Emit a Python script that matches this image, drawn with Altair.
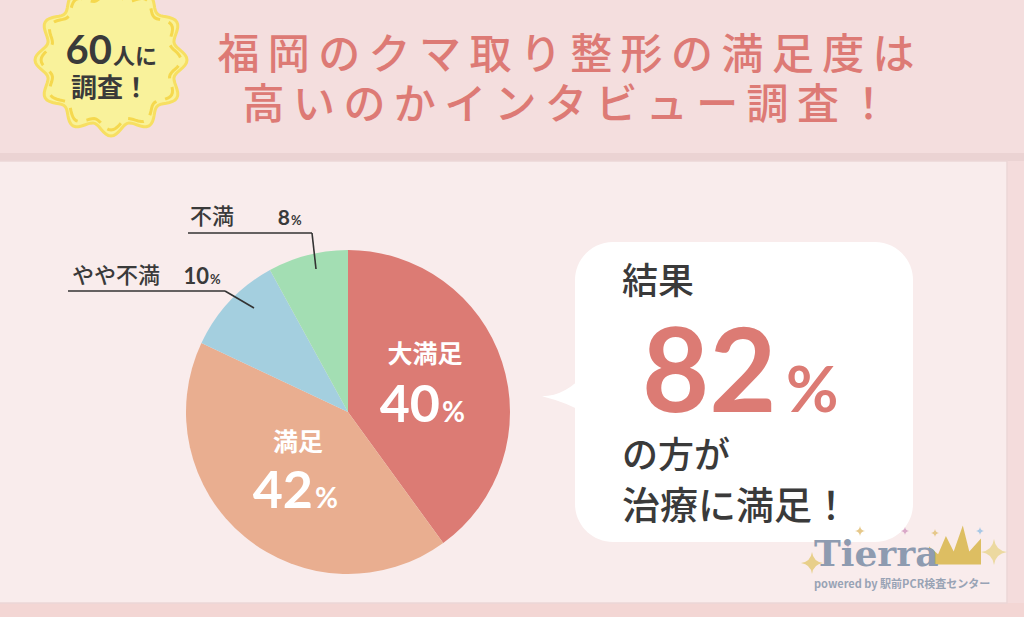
import altair as alt
import numpy as np
import pandas as pd

# ---- data ----
labels = ["大満足", "満足", "やや不満", "不満"]
values = [40, 42, 10, 8]
colors = ["#dc7b74", "#e9ae90", "#a4cfdf", "#a3deb3"]
pct_text = [f"{v}" for v in values]
title_lines = ["福岡のクマ取り整形の満足度は", "高いのかインタビュー調査！"]
badge_lines = ["60", "人に", "調査！"]
result_lines = ["結果", "82", "%", "の方が", "治療に満足！"]
logo_lines = ["Tierra", "powered by 駅前PCR検査センター"]

W, H = 1024, 617
CX, CY, R = 348, 412, 162
JP = "Noto Sans CJK JP"
NUM = "Lato"
DARK = "#3a3a3a"

pie_df = pd.DataFrame({"label": labels, "value": values, "idx": list(range(len(labels)))})
one = alt.Data(values=[{}])


def rect(x, x2, y, y2, color, **kw):
    return alt.Chart(one).mark_rect(color=color, **kw).encode(
        x=alt.value(x), x2=alt.value(x2), y=alt.value(y), y2=alt.value(y2))


def text(s, x, y, size, color=DARK, font=JP, weight="normal", align="left",
         baseline="alphabetic", **kw):
    return alt.Chart(one).mark_text(
        text=s, fontSize=size, color=color, font=font, fontWeight=weight,
        align=align, baseline=baseline, **kw).encode(x=alt.value(x), y=alt.value(y))


def rule(x, y, x2, y2, color="#333333", w=1.6):
    return alt.Chart(one).mark_rule(color=color, strokeWidth=w).encode(
        x=alt.value(x), y=alt.value(y), x2=alt.value(x2), y2=alt.value(y2))


def shape(path, x, y, half, **kw):
    return alt.Chart(one).mark_point(shape=path, size=(2 * half) ** 2, **kw).encode(
        x=alt.value(x), y=alt.value(y))


# wavy badge outline (unit square path)
th = np.linspace(0, 2 * np.pi, 181)
rr = 0.93 + 0.07 * np.cos(12 * th)
badge_path = "M" + " L".join(f"{r * np.sin(t):.3f},{-r * np.cos(t):.3f}" for r, t in zip(rr, th)) + " Z"
rr2 = 0.86 + 0.06 * np.cos(12 * th)
badge_path2 = "M" + " L".join(f"{r * np.sin(t):.3f},{-r * np.cos(t):.3f}" for r, t in zip(rr2, th)) + " Z"

pointer_path = "M-1,0.15 Q0.1,0.15 1,-0.95 L1,0.95 Q0.2,0.45 -1,0.15 Z"
crown_path = "M-1,0.6 L-1,-0.1 L-0.65,0.2 L-0.35,-0.5 L-0.05,0.1 L0.3,-0.9 L0.55,0.1 L1,-0.4 L1,0.6 Z"
star_path = "M0,-1 Q0.12,-0.12 1,0 Q0.12,0.12 0,1 Q-0.12,0.12 -1,0 Q-0.12,-0.12 0,-1 Z"

layers = []
# backgrounds
layers.append(rect(0, W, 0, 153, "#f4dede"))
layers.append(rect(0, W, 153, 161, "#ebd3d3"))
layers.append(rect(0, W, 603, H, "#f3d6d4"))
layers.append(rect(1007, W, 161, 603, "#f4dcdc"))
layers.append(rect(-4, 1007, 161, 603, "#f9ecec", stroke="#ecd6d6", strokeWidth=1.5))

# badge
layers.append(shape(badge_path, 111, 60, 76, filled=True, fill="#f9f29b", stroke="#f7df62",
                    strokeWidth=3, opacity=1))
layers.append(shape(badge_path2, 111, 60, 76, filled=False, stroke="#f5d84e",
                    strokeWidth=3, strokeDash=[16, 9], opacity=1))
layers.append(text(badge_lines[0], 112, 64, 40, font=NUM, weight="bold", align="right"))
layers.append(text(badge_lines[1], 113, 64, 22, weight="bold"))
layers.append(text(badge_lines[2], 110, 97, 26, weight="bold", align="center"))

# title
for line, y in zip(title_lines, [56, 106]):
    spaced = "\u2009".join(line)
    layers.append(text(spaced, 566, y, 42, color="#dd7a75", weight=500, align="center",
                       baseline="middle"))

# pie
pie = alt.Chart(pie_df).mark_arc(outerRadius=R, stroke=None).encode(
    theta=alt.Theta("value:Q", stack=True),
    color=alt.Color("label:N", scale=alt.Scale(domain=labels, range=colors), legend=None),
    order=alt.Order("idx:Q"),
    x=alt.value(CX), y=alt.value(CY),
)
layers.append(pie)

# inner labels
layers.append(text(labels[0], 425, 355, 25, color="white", weight="bold", align="center", baseline="middle"))
layers.append(text(pct_text[0], 440, 422, 52, color="white", font=NUM, weight="bold", align="right"))
layers.append(text("%", 442, 422, 28, color="white", font=NUM, weight="bold"))
layers.append(text(labels[1], 298, 443, 25, color="white", weight="bold", align="center", baseline="middle"))
layers.append(text(pct_text[1], 313, 508, 52, color="white", font=NUM, weight="bold", align="right"))
layers.append(text("%", 315, 508, 28, color="white", font=NUM, weight="bold"))

# leader labels
layers.append(rule(188, 233, 312, 233))
layers.append(rule(312, 233, 316, 269))
layers.append(rule(68, 291, 225, 291))
layers.append(rule(225, 291, 254, 308))
layers.append(text(labels[3], 190, 224, 22, weight=500))
layers.append(text(pct_text[3], 290, 225, 21, font=NUM, weight="bold", align="right"))
layers.append(text("%", 291, 225, 13, font=NUM, weight="bold"))
layers.append(text(labels[2], 72, 283, 22, weight=500))
layers.append(text(pct_text[2], 209, 284, 22, font=NUM, weight="bold", align="right"))
layers.append(text("%", 210, 284, 13, font=NUM, weight="bold"))

# speech bubble
layers.append(rect(575, 913, 242, 542, "white", cornerRadius=38))
layers.append(shape(pointer_path, 564, 393, 22, filled=True, fill="white", stroke=None, opacity=1))
layers.append(text(result_lines[0], 622, 294, 36, weight=500))
layers.append(text(result_lines[1], 642, 412, 116, color="#dc7b74", font=NUM, weight="bold"))
layers.append(text(result_lines[2], 786, 412, 64, color="#dc7b74", font=NUM, weight="bold"))
layers.append(text(result_lines[3], 622, 468, 36, weight=500))
layers.append(text(result_lines[4], 622, 519, 38, weight=500))

# logo
for sx, sy, half, sc in [(812, 563, 11, "#e8cf8a"), (994, 552, 13, "#ecd9a0"), (860, 531, 5, "#e6c88a"),
                         (905, 531, 4, "#d9a8c8"), (935, 533, 4, "#e6c88a"), (980, 531, 4, "#a9c8e6"),
                         (848, 544, 4, "#d9a8c8")]:
    layers.append(shape(star_path, sx, sy, half, filled=True, fill=sc, stroke=None, opacity=1))
layers.append(shape(crown_path, 955, 549, 26, filled=True, fill="#d8b64a", stroke=None, opacity=0.85))
layers.append(text(logo_lines[0], 814, 566, 36, color="#8e9bb0", font="DejaVu Serif", weight="bold"))
layers.append(text(logo_lines[1], 814, 588, 11, color="#98a3b5", weight="bold"))

chart = alt.layer(*layers).properties(
    width=W, height=H, padding=0, autosize="none", background="#f4dede"
).configure_view(stroke=None)

chart.save("out.html", embed_options={"renderer": "svg", "actions": False})
